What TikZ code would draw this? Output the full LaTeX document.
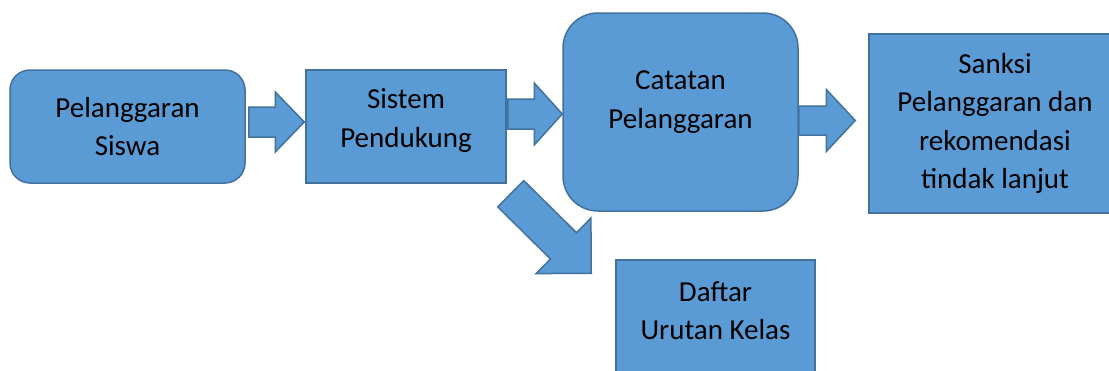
\documentclass[tikz,border=0pt]{standalone}
\usepackage{fontspec}
\setmainfont{Carlito}
\usetikzlibrary{calc}
\definecolor{boxfill}{HTML}{5B9BD5}
\definecolor{boxline}{HTML}{41719C}
\tikzset{
  sqbox/.style={draw=boxline,fill=boxfill,line width=1.5pt,inner sep=0pt},
  rndbox/.style={sqbox,rounded corners=#1},
  boxtext/.style={align=center,inner sep=0pt,font=\fontsize{29}{38.5}\selectfont},
  flowarrow/.style={draw=boxline,fill=boxfill,line width=1.5pt,line join=miter}
}
\newcommand{\fatarrow}[5]{%
  \path (#2) coordinate (fatT) ($(#2)!#5!(#1)$) coordinate (fatH);
  \draw[flowarrow] ($(#1)!#3!90:(#2)$) -- ($(fatH)!#3!90:(fatT)$)
    -- ($(fatH)!#4!90:(fatT)$) -- (fatT) -- ($(fatH)!#4!-90:(fatT)$)
    -- ($(fatH)!#3!-90:(fatT)$) -- ($(#1)!#3!-90:(#2)$) -- cycle;}
\begin{document}
\begin{tikzpicture}[x=1pt,y=-1pt]
\useasboundingbox (0,0) rectangle (1109,370);
\clip (0,0) rectangle (1109,370);
\node[rndbox=20pt,minimum width=235pt,minimum height=113pt] (siswa) at (127.5,126.5) {};
\node[boxtext] (siswatxt) at (siswa.center) {Pelanggaran\\Siswa};
\node[sqbox,minimum width=200pt,minimum height=113pt] (sistem) at (406,126.5) {};
\node[boxtext] (sistemtxt) at ($(sistem.center)+(0,-6)$) {Sistem\\Pendukung};
\node[rndbox=35pt,minimum width=235pt,minimum height=198pt] (catatan) at (680.5,112) {};
\node[boxtext] (catatantxt) at ($(catatan.center)+(0,-10)$) {Catatan\\Pelanggaran};
\node[sqbox,minimum width=252pt,minimum height=179pt] (sanksi) at (995,123.5) {};
\node[boxtext] (sanksitxt) at (sanksi.center) {Sanksi\\Pelanggaran dan\\rekomendasi\\tindak lanjut};
\node[sqbox,minimum width=199pt,minimum height=113pt] (daftar) at (715.5,316.5) {};
\node[boxtext] (daftartxt) at ($(daftar.center)+(0,-6)$) {Daftar\\Urutan Kelas};
\coordinate (a1s) at ($(siswa.east)+(3,-4.5)$);
\coordinate (a1t) at ($(sistem.west)+(-1,-4.5)$);
\coordinate (a2s) at ($(sistem.east)+(1,-12.5)$);
\coordinate (a2t) at ($(catatan.west)+(0,2)$);
\coordinate (a3s) at ($(catatan.east)+(0,8.5)$);
\coordinate (a3t) at ($(sanksi.west)+(-13,-3)$);
\coordinate (a4s) at ($(sistem.south east)+(4,10)$);
\coordinate (a4t) at ($(daftar.north west)+(-24,14)$);
\fatarrow{a1s}{a1t}{15pt}{30pt}{29pt}
\fatarrow{a2s}{a2t}{15pt}{31pt}{28pt}
\fatarrow{a3s}{a3t}{14.5pt}{31pt}{29pt}
\fatarrow{a4s}{a4t}{18.5pt}{39pt}{39pt}
\end{tikzpicture}
\end{document}
